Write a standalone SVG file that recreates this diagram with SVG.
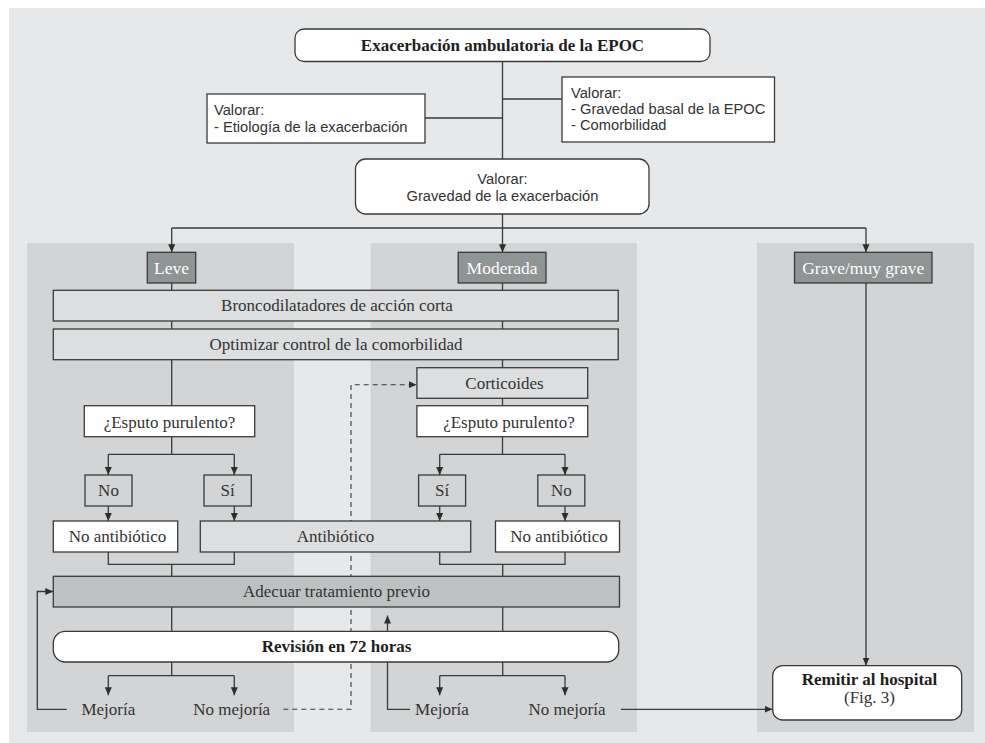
<svg xmlns="http://www.w3.org/2000/svg" width="985" height="743" viewBox="0 0 985 743">
<defs>
<marker id="ah" markerUnits="userSpaceOnUse" markerWidth="9" markerHeight="8" refX="8" refY="3.5" orient="auto">
<path d="M0,0 L8,3.5 L0,7 z" fill="#2e2e2e"/>
</marker>
<style>
.bx{stroke:#3a3a3a;stroke-width:1.3}
.w{fill:#ffffff}
.lg{fill:#dcdedf}
.pn{fill:#d2d4d5}
.dk{fill:#8f9495}
.ad{fill:#bdc1c2}
.ln{fill:none;stroke:#3a3a3a;stroke-width:1.3}
.ar{marker-end:url(#ah)}
.ds{stroke-dasharray:5 4;stroke-width:1.1}
text{font-family:"Liberation Serif","Times New Roman",serif;font-size:17px;fill:#333333}
.s{font-family:"Liberation Sans",Arial,sans-serif;font-size:14.7px}
.c{text-anchor:middle}
.b{font-weight:bold;fill:#1e1e1e}
.wt{fill:#ffffff;font-size:17.5px}
</style>
</defs>
<rect x="9" y="8" width="976" height="735" fill="#e7e8e9"/>
<g id="panels">
<rect x="27" y="243" width="267" height="489" fill="#d2d4d5"/>
<rect x="370.5" y="243" width="266.5" height="489" fill="#d2d4d5"/>
<rect x="757" y="243" width="217" height="489" fill="#d2d4d5"/>
</g>
<g id="connectors">
<path class="ln" d="M502.5,61 V159"/>
<path class="ln" d="M425,118 H502.5"/>
<path class="ln" d="M502.5,99 H562"/>
<path class="ln" d="M502.5,214 V228 M171.7,228 H866"/>
<path class="ln ar" d="M171.7,228 V252.3"/>
<path class="ln ar" d="M502.5,228 V252.3"/>
<path class="ln ar" d="M866,228 V252.3"/>
<path class="ln" d="M171.7,283 V405.7"/>
<path class="ln" d="M502.5,283 V405.7"/>
<path class="ln" d="M171.7,436.7 V454.3 M108.3,454.3 H234.3"/>
<path class="ln ar" d="M108.3,454.3 V475"/>
<path class="ln ar" d="M234.3,454.3 V475"/>
<path class="ln" d="M502.5,436.7 V454.3 M439.7,454.3 H565"/>
<path class="ln ar" d="M439.7,454.3 V475"/>
<path class="ln ar" d="M565,454.3 V475"/>
<path class="ln ar" d="M108.3,506 V521"/>
<path class="ln ar" d="M234.3,506 V521"/>
<path class="ln ar" d="M439.7,506 V521"/>
<path class="ln ar" d="M565,506 V521"/>
<path class="ln" d="M108.3,552 V564.3 H234.3 V552 M171.7,564.3 V576.3"/>
<path class="ln" d="M439.7,552 V564.3 H565 V552 M502.7,564.3 V576.3"/>
<path class="ln" d="M171.7,607 V631.3 M502.7,607 V631.3"/>
<path class="ln" d="M171.7,662 V675.7 M108.3,675.7 H234.3 M502.7,662 V675.7 M439.7,675.7 H565"/>
<path class="ln ar" d="M108.3,675.7 V695.3"/>
<path class="ln ar" d="M234.3,675.7 V695.3"/>
<path class="ln ar" d="M439.7,675.7 V695.3"/>
<path class="ln ar" d="M565,675.7 V695.3"/>
<path class="ln ar" d="M66.7,709.3 H37.3 V591.5 H53.3"/>
<path class="ln ar" d="M410,709.3 H387.5 V615.5"/>
<path class="ln ds ar" d="M283.3,709.3 H351 V384.7 H416.7"/>
<path class="ln ar" d="M621,709.3 H772.5"/>
<path class="ln ar" d="M866,283 V665.5"/>
</g>
<g id="n-exacerbacion">
<rect class="bx w" x="295" y="29" width="415" height="32.5" rx="9"/>
<text class="c b" x="502.5" y="50.5" font-size="17.3">Exacerbación ambulatoria de la EPOC</text>
</g>
<g id="n-etiologia">
<rect class="bx w" x="207" y="94" width="218" height="49"/>
<text class="s" x="214" y="115">Valorar:</text>
<text class="s" x="214" y="132">- Etiología de la exacerbación</text>
</g>
<g id="n-gravedad-basal">
<rect class="bx w" x="562" y="77" width="212.5" height="65"/>
<text class="s" x="571" y="97.7">Valorar:</text>
<text class="s" x="571" y="114">- Gravedad basal de la EPOC</text>
<text class="s" x="571" y="130.3">- Comorbilidad</text>
</g>
<g id="n-gravedad-exacerbacion">
<rect class="bx w" x="355.5" y="159" width="293.5" height="55" rx="10"/>
<text class="s c" x="502.5" y="184">Valorar:</text>
<text class="s c" x="502.5" y="200.5">Gravedad de la exacerbación</text>
</g>
<g id="n-leve">
<rect class="bx dk" x="147.3" y="252.3" width="48.4" height="30.7"/>
<text class="c wt" x="171.5" y="273.5">Leve</text>
</g>
<g id="n-moderada">
<rect class="bx dk" x="458.2" y="252.3" width="87.8" height="30.7"/>
<text class="c wt" x="502.1" y="273.5">Moderada</text>
</g>
<g id="n-grave">
<rect class="bx dk" x="794.5" y="252.3" width="137.5" height="30.7"/>
<text class="c wt" x="863.2" y="273.5">Grave/muy grave</text>
</g>
<g id="n-broncodilatadores">
<rect class="bx lg" x="53.3" y="290.3" width="564.9" height="30.7"/>
<text class="c" x="337" y="311.3">Broncodilatadores de acción corta</text>
</g>
<g id="n-optimizar">
<rect class="bx lg" x="53.3" y="329" width="564.9" height="30.7"/>
<text class="c" x="336" y="349.8">Optimizar control de la comorbilidad</text>
</g>
<g id="n-corticoides">
<rect class="bx lg" x="416.9" y="367.7" width="170.8" height="30.6"/>
<text class="c" x="504.5" y="388.8">Corticoides</text>
</g>
<g id="n-esputo-1">
<rect class="bx w" x="84.3" y="405.7" width="170.4" height="31"/>
<text class="c" x="169.5" y="427.5">¿Esputo purulento?</text>
</g>
<g id="n-esputo-2">
<rect class="bx w" x="416.9" y="405.7" width="170.8" height="31"/>
<text class="c" x="509" y="427.5">¿Esputo purulento?</text>
</g>
<g id="n-no-1">
<rect class="bx pn" x="85" y="475" width="47" height="31"/>
<text class="c" x="108.5" y="496.3">No</text>
</g>
<g id="n-si-1">
<rect class="bx pn" x="204" y="475" width="47.3" height="31"/>
<text class="c" x="227.7" y="496.3">Sí</text>
</g>
<g id="n-si-2">
<rect class="bx pn" x="418.6" y="475" width="47" height="31"/>
<text class="c" x="442.1" y="496.3">Sí</text>
</g>
<g id="n-no-2">
<rect class="bx pn" x="537.8" y="475" width="47" height="31"/>
<text class="c" x="561.3" y="496.3">No</text>
</g>
<g id="n-no-antibiotico-1">
<rect class="bx w" x="53.3" y="521" width="124.4" height="31"/>
<text class="c" x="117.5" y="541.8">No antibiótico</text>
</g>
<g id="n-antibiotico">
<rect class="bx lg" x="200.3" y="521" width="270.4" height="31"/>
<text class="c" x="335.5" y="541.8">Antibiótico</text>
</g>
<g id="n-no-antibiotico-2">
<rect class="bx w" x="495.5" y="521" width="124" height="31"/>
<text class="c" x="559" y="541.8">No antibiótico</text>
</g>
<g id="n-adecuar">
<rect class="bx ad" x="53.3" y="576.3" width="566.2" height="30.7"/>
<text class="c" x="336.5" y="597.3">Adecuar tratamiento previo</text>
</g>
<g id="n-revision">
<rect class="bx w" x="53.3" y="631.3" width="565.4" height="30.7" rx="12"/>
<text class="c b" x="336.5" y="652">Revisión en 72 horas</text>
</g>
<g id="n-mejoria-1"><text class="c" x="108.3" y="715.3">Mejoría</text></g>
<g id="n-no-mejoria-1"><text class="c" x="231.7" y="715.3">No mejoría</text></g>
<g id="n-mejoria-2"><text class="c" x="442" y="715.3">Mejoría</text></g>
<g id="n-no-mejoria-2"><text class="c" x="567" y="715.3">No mejoría</text></g>
<g id="n-remitir">
<rect class="bx w" x="772.7" y="665.7" width="189" height="54.3" rx="10"/>
<text class="c b" x="869.5" y="684.5" font-size="16.5">Remitir al hospital</text>
<text class="c" x="869.5" y="703" font-size="14.5">(Fig. 3)</text>
</g>
</svg>
